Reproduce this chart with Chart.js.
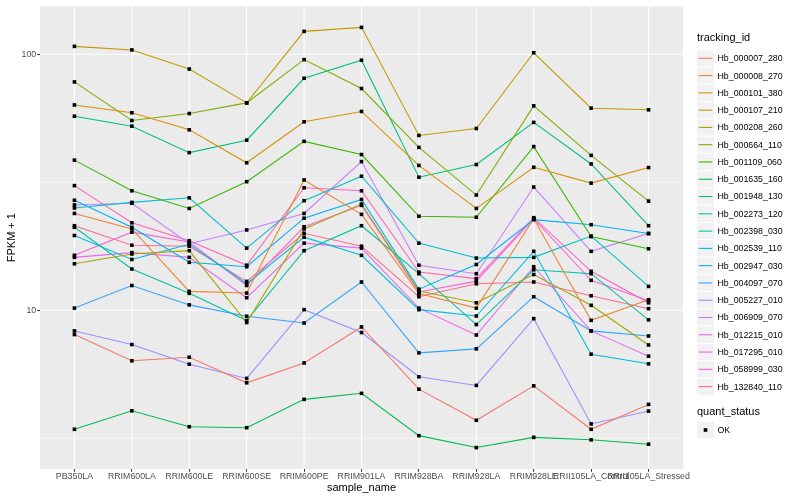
<!DOCTYPE html>
<html><head><meta charset="utf-8">
<script src="https://cdn.jsdelivr.net/npm/chart.js@4"></script>
<style>html,body{margin:0;padding:0;background:#fff}canvas{display:block}</style>
</head><body>
<canvas id="c" width="800" height="500"></canvas>
<script>
const categories = ["PB350LA","RRIM600LA","RRIM600LE","RRIM600SE","RRIM600PE","RRIM901LA","RRIM928BA","RRIM928LA","RRIM928LE","RRII105LA_Control","RRII105LA_Stressed"];
const yTicks = [10, 100];
const yMinorGrid = [3.162, 31.62];
const trackingIds = ["Hb_000007_280","Hb_000008_270","Hb_000101_380","Hb_000107_210","Hb_000208_260","Hb_000664_110","Hb_001109_060","Hb_001635_160","Hb_001948_130","Hb_002273_120","Hb_002398_030","Hb_002539_110","Hb_002947_030","Hb_004097_070","Hb_005227_010","Hb_006909_070","Hb_012215_010","Hb_017295_010","Hb_058999_030","Hb_132840_110"];

const Hb_000007_280 = [8.04, 6.35, 6.56, 5.21, 6.23, 8.61, 4.92, 3.72, 5.07, 3.43, 4.29];
const Hb_000008_270 = [23.9, 20.8, 11.86, 11.68, 32.3, 23.7, 11.62, 10.2, 22.8, 9.14, 11.0];
const Hb_000101_380 = [63.4, 59.1, 50.7, 37.7, 54.5, 59.8, 36.8, 25.0, 36.2, 31.4, 36.1];
const Hb_000107_210 = [107.4, 104, 87.6, 64.6, 122.9, 127.4, 48.2, 51.3, 101.4, 61.6, 60.7];
const Hb_000208_260 = [15.2, 16.6, 17.1, 8.96, 20.8, 26.0, 11.9, 10.7, 13.8, 10.46, 7.32];
const Hb_000664_110 = [78.0, 55.1, 58.7, 64.6, 95.3, 73.5, 43.3, 28.2, 62.9, 40.3, 26.7];
const Hb_001109_060 = [38.6, 29.3, 25.0, 31.8, 45.7, 40.6, 23.3, 23.1, 43.6, 19.4, 17.4];
const Hb_001635_160 = [3.43, 4.05, 3.51, 3.48, 4.49, 4.74, 3.24, 2.91, 3.19, 3.12, 3.00];
const Hb_001948_130 = [57.3, 52.4, 41.3, 46.2, 80.6, 94.8, 33.1, 37.1, 54.2, 37.3, 21.4];
const Hb_002273_120 = [21.1, 14.5, 11.65, 9.12, 17.1, 21.4, 13.9, 8.80, 14.4, 13.9, 9.18];
const Hb_002398_030 = [25.1, 26.4, 27.5, 17.5, 26.8, 33.4, 18.3, 16.0, 16.1, 19.5, 12.4];
const Hb_002539_110 = [19.6, 15.8, 18.1, 12.7, 19.3, 16.4, 10.06, 9.50, 17.0, 6.74, 6.18];
const Hb_002947_030 = [26.9, 21.1, 15.4, 14.8, 22.9, 27.1, 12.1, 15.1, 22.6, 21.6, 19.95];
const Hb_004097_070 = [10.2, 12.5, 10.5, 9.48, 8.92, 12.9, 6.82, 7.07, 11.3, 8.31, 7.94];
const Hb_005227_010 = [8.31, 7.35, 6.16, 5.42, 10.06, 8.19, 5.50, 5.09, 9.28, 3.60, 4.04];
const Hb_006909_070 = [25.8, 26.2, 18.2, 20.6, 23.9, 38.1, 15.0, 13.9, 30.3, 17.0, 19.95];
const Hb_012215_010 = [16.1, 16.8, 16.1, 11.2, 18.3, 17.5, 10.2, 8.01, 14.8, 8.31, 6.62];
const Hb_017295_010 = [16.4, 20.2, 18.5, 12.5, 21.2, 25.7, 11.8, 13.0, 22.8, 13.1, 10.9];
const Hb_058999_030 = [30.7, 21.97, 18.7, 15.0, 30.1, 29.3, 14.1, 13.3, 23.0, 14.2, 10.7];
const Hb_132840_110 = [21.4, 17.96, 17.8, 12.97, 20.0, 17.8, 11.3, 12.7, 12.9, 11.4, 10.15];

const seriesValues = [Hb_000007_280, Hb_000008_270, Hb_000101_380, Hb_000107_210, Hb_000208_260, Hb_000664_110, Hb_001109_060, Hb_001635_160, Hb_001948_130, Hb_002273_120, Hb_002398_030, Hb_002539_110, Hb_002947_030, Hb_004097_070, Hb_005227_010, Hb_006909_070, Hb_012215_010, Hb_017295_010, Hb_058999_030, Hb_132840_110];
const seriesColors = ["#F8766D","#EA8331","#D89000","#C09B00","#A3A500","#7CAE00","#39B600","#00BB4E","#00BF7D","#00C1A3","#00BFC4","#00BAE0","#00B0F6","#35A2FF","#9590FF","#C77CFF","#E76BF3","#FA62DB","#FF62BC","#FF6C91"];

const FONT = "'Liberation Sans', Arial, Helvetica, sans-serif";

const panelPlugin = {
  id: 'panel',
  beforeDatasetsDraw(chart) {
    const {ctx, chartArea: a, scales: {x, y}} = chart;
    ctx.save();
    ctx.fillStyle = '#EBEBEB';
    ctx.fillRect(a.left, a.top, a.right - a.left, a.bottom - a.top);
    ctx.strokeStyle = '#FFFFFF';
    ctx.lineWidth = 0.55;
    yMinorGrid.forEach(v => {
      const p = y.getPixelForValue(v);
      ctx.beginPath(); ctx.moveTo(a.left, p); ctx.lineTo(a.right, p); ctx.stroke();
    });
    ctx.lineWidth = 1.1;
    yTicks.forEach(v => {
      const p = y.getPixelForValue(v);
      ctx.beginPath(); ctx.moveTo(a.left, p); ctx.lineTo(a.right, p); ctx.stroke();
    });
    categories.forEach((c, i) => {
      const p = x.getPixelForValue(i);
      ctx.beginPath(); ctx.moveTo(p, a.top); ctx.lineTo(p, a.bottom); ctx.stroke();
    });
    ctx.restore();
  },
  afterDatasetsDraw(chart) {
    const ctx = chart.ctx;
    ctx.save();
    ctx.fillStyle = '#000';
    chart.data.datasets.forEach((d, i) => {
      chart.getDatasetMeta(i).data.forEach(el => {
        ctx.fillRect(el.x - 1.8, el.y - 1.8, 3.6, 3.6);
      });
    });
    ctx.restore();
  },
  afterDraw(chart) {
    const ctx = chart.ctx;
    const a = chart.chartArea;
    ctx.save();
    ctx.fillStyle = '#000';
    ctx.font = '11px ' + FONT;
    ctx.textAlign = 'center';
    ctx.textBaseline = 'middle';
    ctx.fillText('sample_name', (a.left + a.right) / 2, 488);
    ctx.save();
    ctx.translate(12, (a.top + a.bottom) / 2);
    ctx.rotate(-Math.PI / 2);
    ctx.fillText('FPKM + 1', 0, 0);
    ctx.restore();
    // legend
    const lx = 697;
    ctx.textAlign = 'left';
    ctx.font = '11px ' + FONT;
    ctx.fillText('tracking_id', lx, 38);
    const step = 17.28;
    const y0 = 58.3;
    ctx.font = '8.8px ' + FONT;
    chart.data.datasets.forEach((d, i) => {
      const yc = y0 + i * step;
      ctx.fillStyle = '#F2F2F2';
      ctx.fillRect(lx, yc - 8.1, 17, 16.2);
      ctx.strokeStyle = d.borderColor;
      ctx.lineWidth = 1.1;
      ctx.beginPath(); ctx.moveTo(lx + 1.7, yc); ctx.lineTo(lx + 15.3, yc); ctx.stroke();
      ctx.fillStyle = '#000';
      ctx.fillText(d.label, lx + 20.5, yc + 0.5);
    });
    ctx.font = '11px ' + FONT;
    ctx.fillStyle = '#000';
    ctx.fillText('quant_status', lx, 412);
    const yk = 430;
    ctx.fillStyle = '#F2F2F2';
    ctx.fillRect(lx, yk - 8.1, 17, 16.2);
    ctx.fillStyle = '#000';
    ctx.fillRect(lx + 8.5 - 1.8, yk - 1.8, 3.6, 3.6);
    ctx.font = '8.8px ' + FONT;
    ctx.fillText('OK', lx + 20.5, yk + 0.5);
    ctx.restore();
  }
};

const datasets = seriesValues.map((vals, k) => ({
  label: trackingIds[k],
  data: vals.map((v, i) => ({x: i, y: v})),
  borderColor: seriesColors[k],
  backgroundColor: seriesColors[k],
  borderWidth: 1.07,
  pointRadius: 0,
  pointHoverRadius: 0,
  tension: 0,
  fill: false
}));

new Chart(document.getElementById('c'), {
  type: 'line',
  data: { datasets },
  plugins: [panelPlugin],
  options: {
    responsive: false,
    animation: false,
    events: [],
    layout: { padding: { left: 0, right: 117, top: 5, bottom: 0 } },
    plugins: { legend: { display: false }, tooltip: { enabled: false } },
    scales: {
      x: {
        type: 'linear',
        min: -0.6,
        max: categories.length - 1 + 0.6,
        bounds: 'data',
        afterBuildTicks(scale) { scale.ticks = categories.map((c, i) => ({value: i})); },
        afterFit(scale) { scale.height = 31; },
        grid: { display: true, drawOnChartArea: false, drawTicks: true, tickLength: 2.75, color: '#333333', lineWidth: 1 },
        border: { display: false },
        ticks: {
          autoSkip: false, maxRotation: 0, minRotation: 0, padding: 0,
          color: '#4D4D4D', font: { family: FONT, size: 8.8 },
          callback: (v) => categories[v]
        }
      },
      y: {
        type: 'logarithmic',
        min: 2.40,
        max: 154,
        bounds: 'data',
        afterBuildTicks(scale) { scale.ticks = yTicks.map(v => ({value: v})); },
        afterFit(scale) { scale.width = 40; },
        grid: { display: true, drawOnChartArea: false, drawTicks: true, tickLength: 2.75, color: '#333333', lineWidth: 1 },
        border: { display: false },
        ticks: {
          padding: 1, color: '#4D4D4D', font: { family: FONT, size: 8.8 },
          callback: (v) => String(v)
        }
      }
    }
  }
});
</script>
</body></html>
